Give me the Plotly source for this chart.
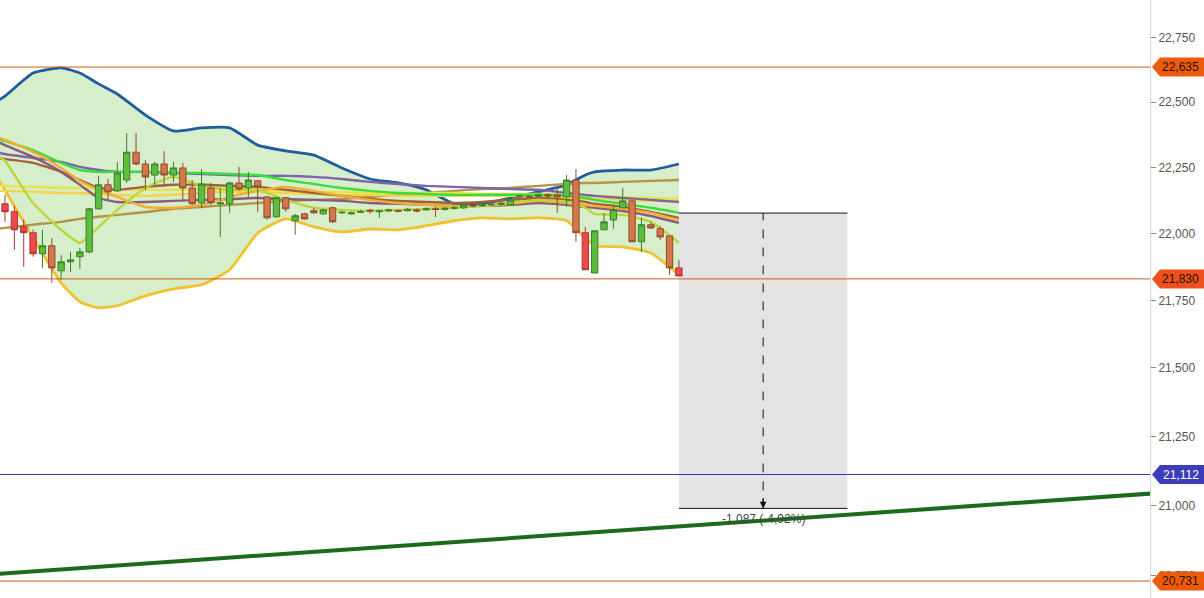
import plotly.graph_objects as go
import math

# ---------------- data ----------------
candle_idx = list(range(73))
opens = [22112, 22082, 22025, 22003, 21924, 21954, 21860, 21894, 21913, 21931,
         22093, 22184, 22161, 22202, 22308, 22263, 22221, 22263, 22221, 22248,
         22172, 22116, 22172, 22112, 22112, 22191, 22172, 22199, 22138, 22063,
         22135, 22048, 22074, 22086, 22074, 22097, 22078, 22074, 22080, 22088,
         22082, 22085, 22087, 22086, 22089, 22089, 22093, 22091, 22095, 22097,
         22106, 22104, 22108, 22110, 22108, 22138, 22140, 22140, 22146, 22146,
         22138, 22202, 22003, 21852, 22014, 22051, 22097, 22123, 21969, 22033,
         22018, 21991, 21871]
highs = [22146, 22104, 22052, 22014, 22014, 21983, 21920, 21931, 21946, 22097,
         22218, 22206, 22271, 22381, 22381, 22278, 22271, 22312, 22271, 22267,
         22202, 22244, 22191, 22172, 22195, 22252, 22233, 22202, 22142, 22138,
         22138, 22074, 22078, 22097, 22093, 22101, 22086, 22082, 22090, 22093,
         22089, 22093, 22090, 22097, 22095, 22099, 22101, 22099, 22104, 22112,
         22112, 22114, 22116, 22120, 22131, 22146, 22146, 22150, 22153, 22172,
         22221, 22244, 22025, 22010, 22078, 22108, 22172, 22127, 22059, 22044,
         22029, 21991, 21901]
lows = [22044, 21939, 21875, 21913, 21871, 21815, 21826, 21856, 21867, 21925,
        22090, 22127, 22157, 22191, 22259, 22164, 22184, 22184, 22195, 22127,
        22108, 22097, 22108, 21987, 22078, 22161, 22135, 22082, 22052, 22060,
        22082, 21995, 22052, 22074, 22071, 22040, 22074, 22071, 22076, 22074,
        22059, 22080, 22080, 22083, 22080, 22085, 22062, 22086, 22089, 22093,
        22099, 22100, 22104, 22104, 22104, 22134, 22131, 22136, 22131, 22078,
        22101, 21969, 21864, 21852, 22014, 22018, 22097, 21969, 21931, 22018,
        21976, 21845, 21841]
closes = [22082, 22014, 22003, 21924, 21954, 21871, 21894, 21901, 21931, 22093,
          22184, 22157, 22229, 22308, 22263, 22214, 22263, 22221, 22248, 22172,
          22112, 22187, 22116, 22116, 22191, 22168, 22202, 22176, 22059, 22135,
          22093, 22067, 22055, 22078, 22089, 22044, 22080, 22078, 22083, 22085,
          22085, 22089, 22084, 22091, 22085, 22093, 22091, 22095, 22097, 22108,
          22104, 22108, 22110, 22114, 22127, 22142, 22138, 22146, 22142, 22138,
          22202, 22003, 21864, 22010, 22044, 22089, 22123, 21969, 22033, 22021,
          21987, 21871, 21841]
candle_kind = ['r', 'r', 'r', 'r', 'g', 'b', 'g', 'g', 'g', 'g',
               'g', 'b', 'g', 'g', 'b', 'b', 'g', 'b', 'g', 'b',
               'b', 'g', 'b', 'g', 'g', 'b', 'g', 'b', 'b', 'g',
               'b', 'g', 'b', 'b', 'g', 'b', 'g', 'g', 'g', 'b',
               'g', 'g', 'b', 'g', 'b', 'g', 'b', 'g', 'g', 'g',
               'b', 'g', 'g', 'g', 'g', 'g', 'b', 'g', 'b', 'b',
               'g', 'b', 'r', 'g', 'g', 'g', 'g', 'b', 'g', 'b',
               'b', 'b', 'r']

ma_idx = [-1, 0, 3, 6, 8, 10, 12, 15, 18, 21, 24, 27, 30, 33, 36, 39, 42, 45,
          48, 51, 54, 57, 60, 62, 63, 66, 69, 72]
bb_upper = [22500, 22523, 22612, 22632, 22612, 22570, 22531, 22450, 22389, 22401,
            22401, 22335, 22313, 22297, 22248, 22206, 22191, 22165, 22112, 22112,
            22134, 22157, 22184, 22221, 22233, 22240, 22240, 22263]
bb_lower = [22218, 22163, 21984, 21815, 21745, 21722, 21730, 21767, 21793, 21808,
            21864, 22002, 22055, 22025, 22006, 22017, 22014, 22029, 22048, 22059,
            22055, 22059, 22048, 21984, 21954, 21950, 21927, 21845]
ma_green = [22362, 22351, 22316, 22267, 22240, 22233, 22233, 22233, 22229, 22229,
            22225, 22221, 22202, 22187, 22172, 22161, 22153, 22149, 22146, 22146,
            22146, 22146, 22142, 22134, 22127, 22112, 22097, 22078]
ma_purple = [22309, 22301, 22286, 22271, 22252, 22240, 22233, 22233, 22229, 22225,
             22221, 22218, 22218, 22214, 22206, 22195, 22187, 22180, 22176, 22172,
             22168, 22165, 22153, 22146, 22142, 22134, 22127, 22119]
ma_olive = [22018, 22021, 22033, 22044, 22055, 22063, 22070, 22081, 22093, 22100,
            22108, 22115, 22123, 22127, 22130, 22138, 22146, 22153, 22161, 22168,
            22172, 22180, 22187, 22191, 22191, 22195, 22199, 22202]
ma_yellowgreen = [22301, 22275, 22115, 22014, 21965, 22025, 22089, 22172, 22214, 22180,
                  22165, 22165, 22127, 22097, 22089, 22085, 22089, 22093, 22097, 22104,
                  22115, 22127, 22119, 22097, 22074, 22070, 22044, 21965]
ma_plum = [22351, 22335, 22290, 22233, 22184, 22134, 22119, 22119, 22123, 22127,
           22130, 22134, 22130, 22127, 22123, 22115, 22112, 22108, 22104, 22104,
           22108, 22115, 22108, 22100, 22097, 22085, 22066, 22040]
ma_brown = [22286, 22282, 22267, 22233, 22202, 22172, 22165, 22176, 22184, 22184,
            22180, 22176, 22165, 22153, 22142, 22130, 22123, 22119, 22115, 22119,
            22127, 22134, 22127, 22119, 22112, 22100, 22081, 22059]
ma_orange = [22366, 22355, 22309, 22248, 22199, 22165, 22138, 22100, 22097, 22108,
             22138, 22161, 22176, 22161, 22142, 22127, 22115, 22108, 22104, 22104,
             22112, 22123, 22115, 22108, 22104, 22093, 22078, 22051]
ma_yellow1 = [22180, 22180, 22176, 22172, 22172, 22172, 22168, 22165, 22165, 22165,
              22165, 22165, 22161, 22157, 22157, 22153, 22153, 22153, 22153, 22149,
              22149, 22149, 22146, 22142, 22142, 22138, 22134, 22130]
ma_yellow2 = [22161, 22161, 22157, 22153, 22153, 22149, 22146, 22142, 22146, 22153,
              22157, 22157, 22153, 22149, 22146, 22146, 22142, 22142, 22142, 22142,
              22142, 22138, 22134, 22130, 22130, 22127, 22123, 22123]

trend_x = [-1, 124]
trend_y = [20756, 21047]

levels = [22635, 21830, 21112, 20731]
level_line_colors = ['#cf5a12', '#cf5a12', '#3a3aa6', '#cf5a12']
level_tag_colors = ['#ec5a0c', '#ee4f1c', '#3d3dbb', '#ec5a0c']
level_text_colors = ['#2a1200', '#2a1200', '#ffffff', '#2a1200']

box_start, box_end, box_mid = 72, 90, 81
box_top, box_bottom = 22077, 20990

y_ticks = [20750, 21000, 21250, 21500, 21750, 22000, 22250, 22500, 22750]

# ---------------- layout constants ----------------
W, H = 1204, 598
ML, MR = 0, 54
plot_w = W - ML - MR
x_range = [-0.534, 122.33]
y_range_log = [4.31536, 4.35976]
px_per_decade = H / (y_range_log[1] - y_range_log[0])
FONT = "Arial, 'Liberation Sans', sans-serif"

fig = go.Figure()

# Bollinger fill (base subplot)
fig.add_trace(go.Scatter(x=ma_idx, y=bb_upper, mode='lines',
                         line=dict(color='#1f5d9e', width=2.8, shape='spline', smoothing=0.5),
                         hoverinfo='skip'))
fig.add_trace(go.Scatter(x=ma_idx, y=bb_lower, mode='lines', fill='tonexty',
                         fillcolor='rgba(160,215,130,0.42)',
                         line=dict(color='#f2c12e', width=2.8, shape='spline', smoothing=0.5),
                         hoverinfo='skip'))

ma_specs = [
    (ma_olive, '#b39548'),
    (ma_yellow2, '#f2d54c'),
    (ma_yellow1, '#e9e34a'),
    (ma_purple, '#7b66a8'),
    (ma_green, '#3ddc3d'),
    (ma_brown, '#a0603a'),
    (ma_plum, '#8b5a7c'),
    (ma_orange, '#f3ae33'),
    (ma_yellowgreen, '#bcd53a'),
]
for vals, col in ma_specs:
    fig.add_trace(go.Scatter(x=ma_idx, y=vals, mode='lines',
                             line=dict(color=col, width=2.4, shape='spline', smoothing=0.5),
                             hoverinfo='skip'))

# candles on an overlaying subplot so they sit above the band fill
kind_style = {
    'g': ('#5cbd3f', '#3d7f2c'),
    'b': ('#d2784c', '#8f4a2c'),
    'r': ('#ee4b4b', '#a83636'),
}
for k, (fill, line) in kind_style.items():
    sel = [i for i, kk in enumerate(candle_kind) if kk == k]
    fig.add_trace(go.Candlestick(
        x=[candle_idx[i] for i in sel],
        open=[opens[i] for i in sel], high=[highs[i] for i in sel],
        low=[lows[i] for i in sel], close=[closes[i] for i in sel],
        increasing=dict(fillcolor=fill, line=dict(color=line, width=1)),
        decreasing=dict(fillcolor=fill, line=dict(color=line, width=1)),
        whiskerwidth=0, hoverinfo='skip', xaxis='x2', yaxis='y2'))

# trend line
fig.add_trace(go.Scatter(x=trend_x, y=trend_y, mode='lines', xaxis='x2', yaxis='y2',
                         line=dict(color='#1d6a1d', width=4), hoverinfo='skip'))

shapes = []
annotations = []

# measurement box
shapes.append(dict(type='rect', xref='x', yref='y', x0=box_start, x1=box_end,
                   y0=box_bottom, y1=box_top, fillcolor='#e4e4e4',
                   line=dict(width=0), layer='below'))
for v in (box_top, box_bottom):
    shapes.append(dict(type='line', xref='x', yref='y', x0=box_start, x1=box_end,
                       y0=v, y1=v, line=dict(color='#111111', width=1)))
shapes.append(dict(type='line', xref='x', yref='y', x0=box_mid, x1=box_mid,
                   y0=box_bottom, y1=box_top, line=dict(color='#111111', width=1, dash='dash')))
annotations.append(dict(x=box_mid, y=math.log10(box_bottom), xref='x', yref='y',
                        ax=0, ay=-12, showarrow=True, arrowhead=2, arrowsize=1.1,
                        arrowwidth=1.2, arrowcolor='#111111', text=''))
change = box_bottom - box_top
pct = change / box_top * 100
label = f"{change:,} (" + f"{pct:.2f}".replace('.', ',') + "%)"
annotations.append(dict(x=box_mid, y=math.log10(box_bottom), xref='x', yref='y',
                        yanchor='top', yshift=-2, showarrow=False, text=label,
                        font=dict(family=FONT, size=12, color='#444444')))

# level lines + tags
half = 10 ** (9.5 / px_per_decade)
x_tip = 1 + 2 / plot_w
x_body = 1 + 10 / plot_w
x_end = 1 + (MR + 2) / plot_w
for v, lc, tc, txc in zip(levels, level_line_colors, level_tag_colors, level_text_colors):
    shapes.append(dict(type='line', xref='paper', yref='y', x0=0, x1=1, y0=v, y1=v,
                       line=dict(color=lc, width=1)))
    path = (f"M {x_tip},{v} L {x_body},{v * half} L {x_end},{v * half} "
            f"L {x_end},{v / half} L {x_body},{v / half} Z")
    shapes.append(dict(type='path', xref='paper', yref='y', path=path,
                       fillcolor=tc, line=dict(width=0), layer='above'))
    annotations.append(dict(x=1 + 31 / plot_w, y=math.log10(v), xref='paper', yref='y',
                            showarrow=False, text=f"{v:,}", xanchor='center',
                            font=dict(family=FONT, size=12, color=txc)))

fig.update_layout(
    width=W, height=H,
    margin=dict(l=ML, r=MR, t=0, b=0, pad=0),
    paper_bgcolor='white', plot_bgcolor='white',
    showlegend=False,
    boxgap=0.25, boxgroupgap=0.1,
    shapes=shapes, annotations=annotations,
    font=dict(family=FONT),
    xaxis=dict(range=x_range, showticklabels=False, showgrid=False, zeroline=False,
               showline=False, ticks='', rangeslider=dict(visible=False), fixedrange=True),
    yaxis=dict(type='log', range=y_range_log, side='right', tickvals=y_ticks,
               tickformat=',d', ticks='outside', ticklen=5, tickcolor='#888888',
               tickfont=dict(family=FONT, size=12, color='#555555'),
               showgrid=False, zeroline=False, showline=True, linecolor='#d9d9d9',
               fixedrange=True),
    xaxis2=dict(overlaying='x', range=x_range, visible=False, showgrid=False,
                zeroline=False, rangeslider=dict(visible=False), fixedrange=True),
    yaxis2=dict(overlaying='y', type='log', range=y_range_log, side='right',
                visible=False, showgrid=False, zeroline=False, fixedrange=True),
)

fig.write_html("out.html", config={'displayModeBar': False},
               post_script="document.body.style.margin='0';document.body.style.overflow='hidden';")
